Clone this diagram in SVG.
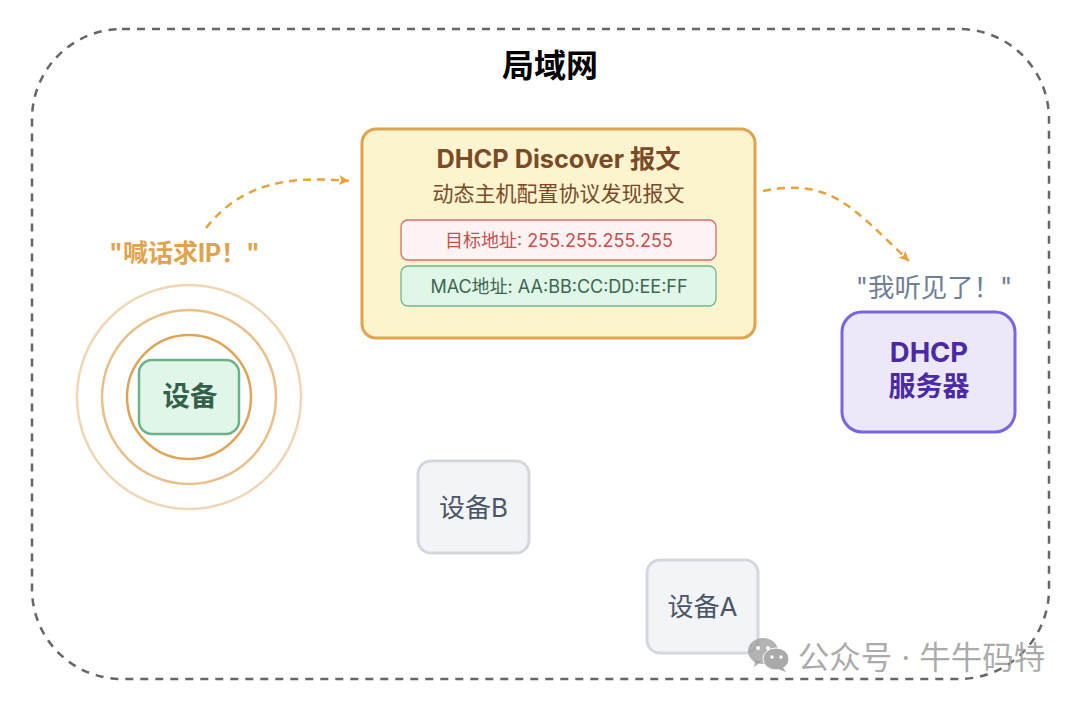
<svg xmlns="http://www.w3.org/2000/svg" width="1080" height="701" viewBox="0 0 1080 701">
<style>
text{font-family:"Inter","Noto Sans CJK SC",sans-serif;text-anchor:middle}
.b{font-weight:700}
.flow{fill:none;stroke:#e9a23b;stroke-width:2.5;stroke-dasharray:8 6}
.ring{fill:none;stroke:#e0a458}
</style>
<defs>
<marker id="arr" markerUnits="userSpaceOnUse" markerWidth="12" markerHeight="12" refX="10" refY="5" orient="auto"><path d="M0 0L10 5L0 10L2.5 5Z" fill="#e9a23b"/></marker>
</defs>
<rect width="1080" height="701" fill="#fff"/>
<g id="lan">
<rect x="32" y="29" width="1017" height="650" rx="90" fill="none" stroke="#666" stroke-width="2.500" stroke-dasharray="8 7"/>
<text x="550" y="77" font-size="32" class="b" fill="#000">局域网</text>
</g>
<g id="connectors">
<path class="flow" marker-end="url(#arr)" d="M206 228C240 185 285 175 349 181"/>
<path class="flow" marker-end="url(#arr)" d="M763 191C830 178 850 205 909 261"/>
</g>
<g id="packet">
<rect x="362" y="129" width="393" height="209" rx="14" fill="#fbf4cf" stroke="#e0a44e" stroke-width="3"/>
<text x="558.500" y="168" font-size="25.300" class="b" fill="#7b4a26">DHCP Discover 报文</text>
<text x="558.500" y="201" font-size="21" fill="#7b4a26">动态主机配置协议发现报文</text>
<rect x="401" y="220" width="315" height="40" rx="7" fill="#fdf3f3" stroke="#d9686a" stroke-width="1.300"/>
<text x="559" y="247" font-size="18" fill="#c94f4f">目标地址: 255.255.255.255</text>
<rect x="401" y="266" width="315" height="40" rx="7" fill="#e0f6e8" stroke="#74b58f" stroke-width="1.300"/>
<text x="559" y="293" font-size="18" fill="#3c6650">MAC地址: AA:BB:CC:DD:EE:FF</text>
</g>
<g id="device">
<text x="184.500" y="262" font-size="25" class="b" fill="#e0a44e">"喊话求IP！"</text>
<circle class="ring" cx="189" cy="397" r="112" stroke-width="2.5" opacity=".45"/>
<circle class="ring" cx="189" cy="397" r="87" stroke-width="2.5" opacity=".7"/>
<circle class="ring" cx="189" cy="397" r="62" stroke-width="2.5"/>
<rect x="139" y="360" width="100" height="74" rx="13" fill="#e0f6e8" stroke="#6cb18a" stroke-width="2.500"/>
<text x="190" y="406" font-size="27.500" class="b" fill="#33604a">设备</text>
</g>
<g id="dhcp-server">
<text x="934" y="297" font-size="26.400" fill="#718096">"我听见了！"</text>
<rect x="842" y="312" width="173" height="120" rx="20" fill="#ece8fa" stroke="#7c63e2" stroke-width="3"/>
<text x="929" y="362" font-size="27.400" class="b" fill="#4a2aa5">DHCP</text>
<text x="929" y="396" font-size="27" class="b" fill="#4a2aa5">服务器</text>
</g>
<g id="device-b">
<rect x="418" y="461" width="111" height="92" rx="13" fill="#f3f4f7" stroke="#d5d7de" stroke-width="3"/>
<text x="473.500" y="517" font-size="26" fill="#4a5568">设备B</text>
</g>
<g id="device-a">
<rect x="647" y="560" width="111" height="93" rx="13" fill="#f3f4f7" stroke="#d5d7de" stroke-width="3"/>
<text x="702.500" y="616" font-size="26" fill="#4a5568">设备A</text>
</g>
<g id="watermark">
<ellipse cx="763" cy="651" rx="15" ry="13" fill="#999" fill-opacity=".75"/>
<path d="M755 660l-1 7 7-5z" fill="#999" fill-opacity=".75"/>
<ellipse cx="776" cy="659" rx="13" ry="11" fill="#aaa" stroke="#fff" stroke-width="1"/>
<path d="M782 666l4 6-8-3z" fill="#aaa"/>
<circle cx="758" cy="648" r="2" fill="#fff"/><circle cx="768" cy="648" r="2" fill="#fff"/>
<circle cx="772" cy="657" r="1.700" fill="#fff"/><circle cx="781" cy="657" r="1.700" fill="#fff"/>
<text x="921.500" y="669" font-size="31.500" fill="#a6a6a6" fill-opacity=".95">公众号 · 牛牛码特</text>
</g>
</svg>
